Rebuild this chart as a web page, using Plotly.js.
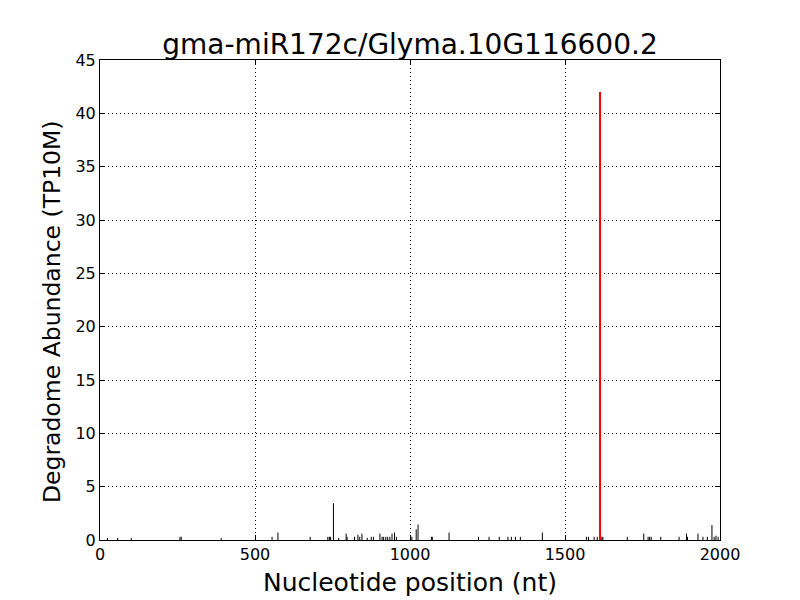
<!DOCTYPE html>
<html>
<head>
<meta charset="utf-8">
<script src="https://cdn.plot.ly/plotly-3.0.1.min.js"></script>
<style>html,body{margin:0;padding:0;background:#fff;}#chart{width:800px;height:600px;}</style>
</head>
<body>
<div id="chart"></div>
<script>
// Degradome reads: position (nt) and abundance (TP10M)
const positions = [24, 57, 101, 258, 262, 391, 555, 574, 678, 735, 740, 744, 753, 770, 794, 797, 821, 832, 838, 845, 862,
  875, 882, 903, 910, 915, 922, 928, 935, 942, 950, 956, 1006, 1020, 1026, 1069, 1072, 1126,
  1221, 1255, 1288, 1316, 1327, 1340, 1356, 1427, 1569, 1576, 1594, 1604, 1619, 1622, 1701,
  1754, 1768, 1773, 1778, 1809, 1868, 1892, 1895, 1929, 1945, 1959, 1974, 1981, 1987, 1994];
const abundance = [0.2, 0.2, 0.2, 0.3, 0.3, 0.2, 0.3, 0.7, 0.3, 0.3, 0.3, 0.3, 3.45, 0.2, 0.6, 0.3, 0.3, 0.5, 0.3, 0.6, 0.2,
  0.3, 0.3, 0.6, 0.3, 0.3, 0.3, 0.3, 0.3, 0.6, 0.7, 0.3, 0.3, 1.0, 1.45, 0.3, 0.3, 0.7,
  0.3, 0.3, 0.3, 0.3, 0.3, 0.3, 0.3, 0.7, 0.3, 0.3, 0.3, 0.3, 0.3, 0.3, 0.3,
  0.6, 0.3, 0.3, 0.3, 0.3, 0.3, 0.6, 0.3, 0.6, 0.3, 0.3, 1.4, 0.3, 0.4, 0.3];
const targetPosition = [1613];
const targetAbundance = [42.0];
const xTicks = [0, 500, 1000, 1500, 2000];
const yTicks = [0, 5, 10, 15, 20, 25, 30, 35, 40, 45];

function stems(xs, ys) {
  const X = [], Y = [];
  for (let i = 0; i < xs.length; i++) {
    X.push(xs[i], xs[i], null);
    Y.push(0, ys[i], null);
  }
  return {x: X, y: Y};
}
const s1 = stems(positions, abundance);
const s2 = stems(targetPosition, targetAbundance);

const traces = [
  {x: s1.x, y: s1.y, type: 'scatter', mode: 'lines', line: {color: '#000', width: 1}, hoverinfo: 'skip', showlegend: false},
  {x: s2.x, y: s2.y, type: 'scatter', mode: 'lines', line: {color: '#ff0000', width: 2}, hoverinfo: 'skip', showlegend: false}
];

const font = "'DejaVu Sans', sans-serif";
const layout = {
  width: 800, height: 600,
  margin: {l: 100, r: 80, t: 60, b: 60},
  paper_bgcolor: '#fff', plot_bgcolor: '#fff',
  font: {family: font, color: '#000', size: 16},
  title: {text: 'gma-miR172c/Glyma.10G116600.2', font: {family: font, size: 28, color: '#000'}, x: 0.5125, xanchor: 'center', y: 0.927, yanchor: 'middle'},
  xaxis: {
    range: [0, 2000], tickvals: xTicks, ticktext: xTicks.map(String),
    showline: true, linecolor: '#000', linewidth: 1, mirror: 'ticks',
    ticks: 'inside', ticklen: 5, tickcolor: '#000',
    showgrid: true, gridcolor: '#000', gridwidth: 1, griddash: '1px,3px',
    zeroline: false, tickfont: {size: 16},
    title: {text: 'Nucleotide position (nt)', font: {size: 25}, standoff: 10}
  },
  yaxis: {
    range: [0, 45], tickvals: yTicks, ticktext: yTicks.map(String),
    showline: true, linecolor: '#000', linewidth: 1, mirror: 'ticks',
    ticks: 'inside', ticklen: 5, tickcolor: '#000',
    showgrid: true, gridcolor: '#000', gridwidth: 1, griddash: '1px,3px',
    zeroline: false, tickfont: {size: 16}
  },
  annotations: [{
    text: 'Degradome Abundance (TP10M)', textangle: -90, showarrow: false,
    xref: 'paper', yref: 'paper', x: -0.0774, y: 0.475, xanchor: 'center', yanchor: 'middle',
    font: {family: font, size: 23.5, color: '#000'}
  }]
};
Plotly.newPlot('chart', traces, layout, {displayModeBar: false, staticPlot: true});
</script>
</body>
</html>
